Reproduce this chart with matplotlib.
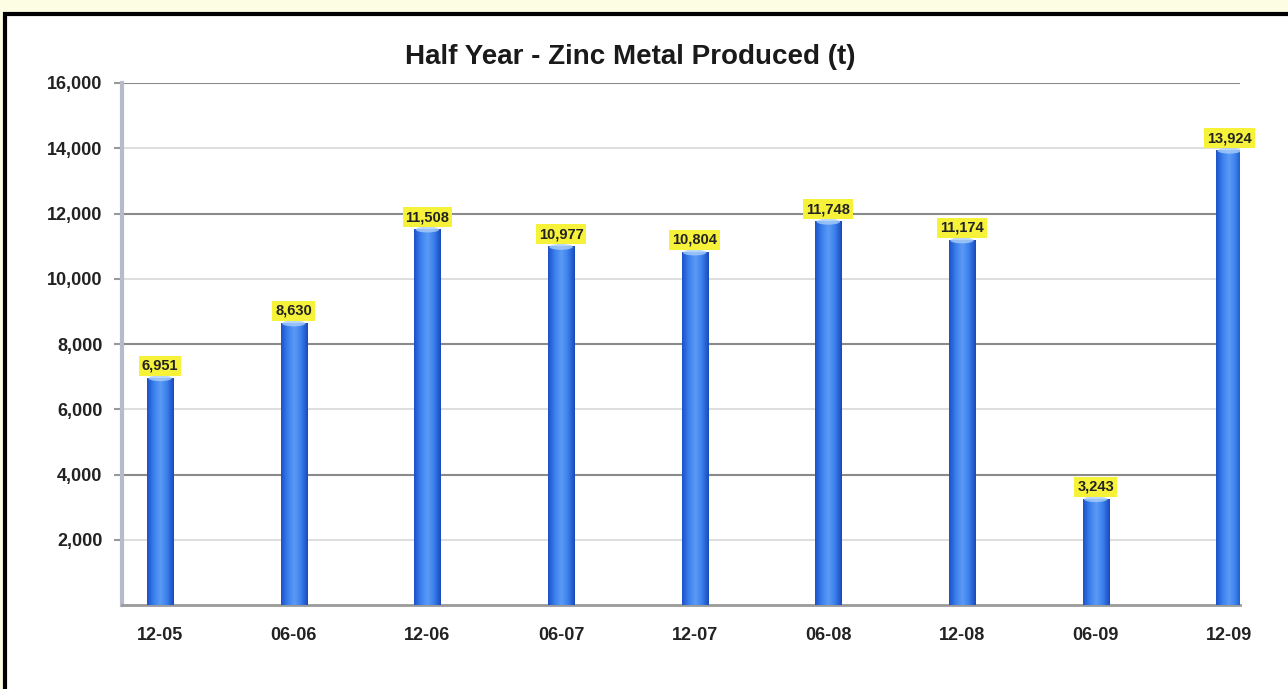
import numpy as np
import matplotlib.pyplot as plt
from matplotlib.patches import Rectangle, Ellipse
from matplotlib.colors import LinearSegmentedColormap

periods = ['12-05', '06-06', '12-06', '06-07', '12-07', '06-08', '12-08', '06-09', '12-09']
zinc_t = [6951, 8630, 11508, 10977, 10804, 11748, 11174, 3243, 13924]
bar_labels = ['6,951', '8,630', '11,508', '10,977', '10,804', '11,748', '11,174', '3,243', '13,924']
y_ticks = [2000, 4000, 6000, 8000, 10000, 12000, 14000, 16000]

plt.rcParams['font.family'] = ['Liberation Sans', 'DejaVu Sans']

fig = plt.figure(figsize=(12.88, 6.89), dpi=100)
fig.patch.set_facecolor('#fdfde4')

# white panel with black border (right/bottom run off the image)
panel = Rectangle((5 / 1288, -0.05), 1.1, 1 - 14 / 689 + 0.05, transform=fig.transFigure,
                  facecolor='white', edgecolor='black', linewidth=3, zorder=-10)
fig.patches.append(panel)

ax = fig.add_axes([122 / 1288, 1 - 605 / 689, (1240 - 122) / 1288, (605 - 83) / 689])
ax.set_facecolor('none')
ax.set_zorder(5)

x = np.arange(len(periods))
width = 0.195
cyl = LinearSegmentedColormap.from_list('cyl', ['#1c52c8', '#3a80ee', '#5c9bf5', '#3a7fec', '#1a4abc'])
grad = np.linspace(0, 1, 64).reshape(1, -1)

for xi, v, lab in zip(x, zinc_t, bar_labels):
    ax.imshow(grad, cmap=cyl, aspect='auto', extent=(xi - width / 2, xi + width / 2, 0, v),
              zorder=3, interpolation='bilinear')
    ax.add_patch(Ellipse((xi, v), width * 0.9, 180, facecolor='#a8cdfa', edgecolor='none',
                         alpha=0.8, zorder=4))
    ax.text(xi, v + 170, lab, ha='center', va='bottom', fontsize=10.5, fontweight='bold',
            color='#222222', zorder=5,
            bbox=dict(boxstyle='square,pad=0.2', facecolor='#f6f23a', edgecolor='none'))

ax.set_xlim(-0.285, 8.08)
ax.set_ylim(0, 16000)
ax.set_yticks(y_ticks)
ax.set_yticklabels([f'{t:,}' for t in y_ticks], fontsize=13, fontweight='bold', color='#222222')
ax.set_xticks(x)
ax.set_xticklabels(periods, fontsize=13, fontweight='bold', color='#222222')
ax.tick_params(axis='x', length=0, pad=16)
ax.tick_params(axis='y', length=6, width=1.5, color='#999999', pad=8)

for t in y_ticks:
    if t % 4000 == 0:
        ax.axhline(t, color='#8a8a8a', linewidth=1.5, zorder=1)
    else:
        ax.axhline(t, color='#d8d8d8', linewidth=1.2, zorder=1)

for s in ['top', 'right']:
    ax.spines[s].set_visible(False)
ax.spines['left'].set_color('#b6bacb')
ax.spines['left'].set_linewidth(3)
ax.spines['bottom'].set_color('#9a9a9a')
ax.spines['bottom'].set_linewidth(2)

fig.text(630 / 1288, 1 - 57 / 689, 'Half Year - Zinc Metal Produced (t)', ha='center', va='center',
         fontsize=20, fontweight='bold', color='#1a1a1a')

fig.savefig('out.png', dpi=100, facecolor=fig.get_facecolor())
